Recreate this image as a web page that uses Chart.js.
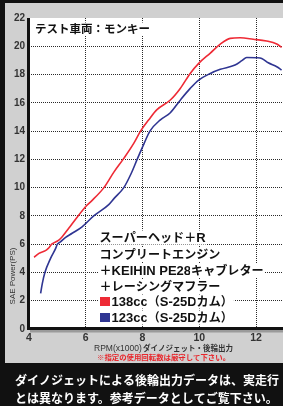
<!DOCTYPE html>
<html><head><meta charset="utf-8">
<script src="https://cdn.jsdelivr.net/npm/chart.js@4"></script>
<style>html,body{margin:0;padding:0;background:#000;overflow:hidden}canvas{display:block}</style>
</head><body>
<canvas id="c" width="283" height="406"></canvas>
<script>
const rpmTicks = [4, 6, 8, 10, 12];
const powerTicks = [0, 2, 4, 6, 8, 10, 12, 14, 16, 18, 20, 22];

const rpm138 = [4.18, 4.35, 4.58, 4.68, 4.80, 5.05, 5.17, 5.40, 5.73, 6.05, 6.20, 6.64, 6.99, 7.34, 7.69, 7.93, 8.22, 8.50, 8.98, 9.33, 9.68, 9.98, 10.39, 10.74, 11.09, 11.44, 11.90, 12.37, 12.73, 12.90];
const ps138  = [5.07, 5.35, 5.54, 5.70, 6.00, 6.29, 6.53, 7.12, 8.00, 8.77, 9.05, 10.0, 11.1, 12.07, 13.13, 14.0, 14.8, 15.5, 16.2, 17.02, 18.08, 18.79, 19.52, 20.15, 20.56, 20.60, 20.50, 20.37, 20.16, 19.92];

const rpm123 = [4.41, 4.47, 4.56, 4.76, 4.94, 5.00, 5.11, 5.29, 5.52, 5.87, 6.28, 6.81, 7.00, 7.34, 7.60, 7.81, 8.05, 8.26, 8.63, 8.98, 9.33, 9.68, 9.98, 10.39, 10.74, 11.26, 11.50, 11.67, 12.02, 12.20, 12.43, 12.73, 12.90];
const ps123  = [2.52, 3.23, 4.00, 5.00, 5.70, 6.00, 6.17, 6.48, 6.77, 7.23, 8.00, 8.80, 9.24, 10.0, 11.0, 12.0, 13.1, 14.0, 14.8, 15.3, 16.19, 17.02, 17.61, 18.08, 18.37, 18.67, 18.98, 19.21, 19.19, 19.14, 18.83, 18.55, 18.32];

const seriesNames = ['138cc（S-25Dカム）', '123cc（S-25Dカム）'];
const seriesColors = ['#ee2a35', '#2f3592'];
const chartTitle = 'テスト車両：モンキー';
const specLines = ['スーパーヘッド＋R', 'コンプリートエンジン', '＋KEIHIN PE28キャブレター', '＋レーシングマフラー'];
const yTitle = 'SAE Power(PS)';
const xTitleA = 'RPM(x1000)';
const xTitleB = 'ダイノジェット・後輪出力';
const note = '※指定の使用回転数は厳守して下さい。';
const footer = ['ダイノジェットによる後輪出力データは、実走行', 'とは異なります。参考データとしてご覧下さい。'];

const JP = '"Noto Sans CJK JP", sans-serif';
const LS = '"Liberation Sans", Arial, sans-serif';

const deco = {
  id: 'deco',
  beforeDraw(chart) {
    const ctx = chart.ctx, ca = chart.chartArea, W = chart.width, H = chart.height;
    ctx.save();
    ctx.fillStyle = '#d0d0d0';
    ctx.fillRect(0, 0, W, H);
    ctx.fillStyle = '#111';
    ctx.fillRect(0, 0, W, 3);
    ctx.fillRect(0, 0, 5, H);
    ctx.fillRect(0, 363, W, H - 363);
    ctx.fillStyle = '#fff';
    ctx.fillRect(ca.left, ca.top, ca.right - ca.left, ca.bottom - ca.top);
    ctx.restore();
  },
  afterDraw(chart) {
    const ctx = chart.ctx, ca = chart.chartArea, W = chart.width;
    ctx.save();
    ctx.fillStyle = '#9a9a9a';
    ctx.fillRect(30, ca.bottom + 1, W - 30, 2.5);
    ctx.fillStyle = '#111';
    ctx.fillRect(ca.left - 2, ca.top, 3, ca.bottom - ca.top + 1);
    ctx.fillRect(ca.left - 2, ca.bottom - 2, W - ca.left + 2, 3);

    ctx.textBaseline = 'middle';
    ctx.textAlign = 'left';
    function bgText(t, x, y, font, color, h) {
      ctx.font = font;
      const w = ctx.measureText(t).width;
      ctx.fillStyle = '#fff';
      ctx.fillRect(x - 1, y - h / 2, w + 2, h);
      ctx.fillStyle = color;
      ctx.fillText(t, x, y);
    }
    // mixed text: ASCII runs in Latin font, the rest in Japanese font
    function mixText(t, x, y, color, h) {
      const runs = t.match(/[\x20-\x7e]+|[^\x20-\x7e]+/g);
      let cx = x;
      runs.forEach(r => {
        const latin = /^[\x20-\x7e]+$/.test(r);
        const font = latin ? 'bold 13px ' + LS : 'bold 12.1px ' + JP;
        ctx.font = font;
        const w = ctx.measureText(r).width;
        ctx.fillStyle = '#fff';
        ctx.fillRect(cx - 1, y - h / 2, w + 2, h);
        ctx.fillStyle = color;
        ctx.fillText(r, cx, y + (latin ? 0.5 : 0));
        cx += w;
      });
    }
    bgText(chartTitle, 35, 29, 'bold 11.5px ' + JP, '#111', 13);

    const ly = [237.5, 254, 270.5, 286, 301.5, 317.5];
    specLines.forEach((t, i) => mixText(t, 99.5, ly[i], '#111', 14));
    seriesNames.forEach((t, i) => {
      const y = ly[4 + i];
      ctx.fillStyle = '#fff';
      ctx.fillRect(99, y - 7, 14, 14);
      ctx.fillStyle = seriesColors[i];
      ctx.fillRect(100, y - 4.5, 10, 9);
      mixText(t, 111.5, y, '#111', 14);
    });

    ctx.save();
    ctx.translate(13, 276);
    ctx.rotate(-Math.PI / 2);
    ctx.textAlign = 'center';
    ctx.font = '8px ' + LS;
    ctx.fillStyle = '#333';
    ctx.fillText(yTitle, 0, 0);
    ctx.restore();

    ctx.fillStyle = '#333';
    ctx.font = '8.5px ' + LS;
    ctx.fillText(xTitleA, 94, 348.5);
    ctx.font = 'bold 7.5px ' + JP;
    ctx.fillText(xTitleB, 143, 348.5);
    ctx.fillStyle = '#e8262b';
    ctx.font = 'bold 7.4px ' + JP;
    ctx.fillText(note, 97, 357);

    ctx.fillStyle = '#fff';
    ctx.font = 'bold 12px ' + JP;
    ctx.fillText(footer[0], 15, 380);
    ctx.fillText(footer[1], 15, 398);
    ctx.restore();
  }
};

new Chart(document.getElementById('c'), {
  type: 'line',
  data: {
    datasets: [
      { label: seriesNames[1], data: rpm123.map((x, i) => ({ x, y: ps123[i] })), borderColor: seriesColors[1], borderWidth: 1.6, pointRadius: 0, cubicInterpolationMode: 'monotone', fill: false },
      { label: seriesNames[0], data: rpm138.map((x, i) => ({ x, y: ps138[i] })), borderColor: seriesColors[0], borderWidth: 1.6, pointRadius: 0, cubicInterpolationMode: 'monotone', fill: false }
    ]
  },
  options: {
    responsive: false,
    animation: false,
    devicePixelRatio: 1,
    layout: { padding: { left: 5, top: 18, right: 0, bottom: 57 } },
    plugins: { legend: { display: false }, tooltip: { enabled: false } },
    scales: {
      x: {
        type: 'linear', min: 4, max: 12.95,
        afterBuildTicks: s => { s.ticks = rpmTicks.map(v => ({ value: v })); },
        afterFit: s => { s.height = 20; },
        ticks: { font: { family: LS, size: 10.5, weight: 'bold' }, color: '#333', padding: 3, maxRotation: 0, autoSkip: false },
        grid: { color: c => (c.tick && c.tick.value === 4) ? 'rgba(0,0,0,0)' : '#2a2a2a', lineWidth: 1, drawTicks: false },
        border: { display: false, dash: [1, 1] }
      },
      y: {
        type: 'linear', min: 0, max: 22,
        afterBuildTicks: s => { s.ticks = powerTicks.map(v => ({ value: v })); },
        afterFit: s => { s.width = 24; },
        ticks: { font: { family: LS, size: 10, weight: 'bold' }, color: '#333', padding: 4, autoSkip: false },
        grid: { color: c => (c.tick && (c.tick.value === 0 || c.tick.value === 22)) ? 'rgba(0,0,0,0)' : '#2a2a2a', lineWidth: 1, drawTicks: false },
        border: { display: false, dash: [1, 1] }
      }
    }
  },
  plugins: [deco]
});
</script>
</body></html>
